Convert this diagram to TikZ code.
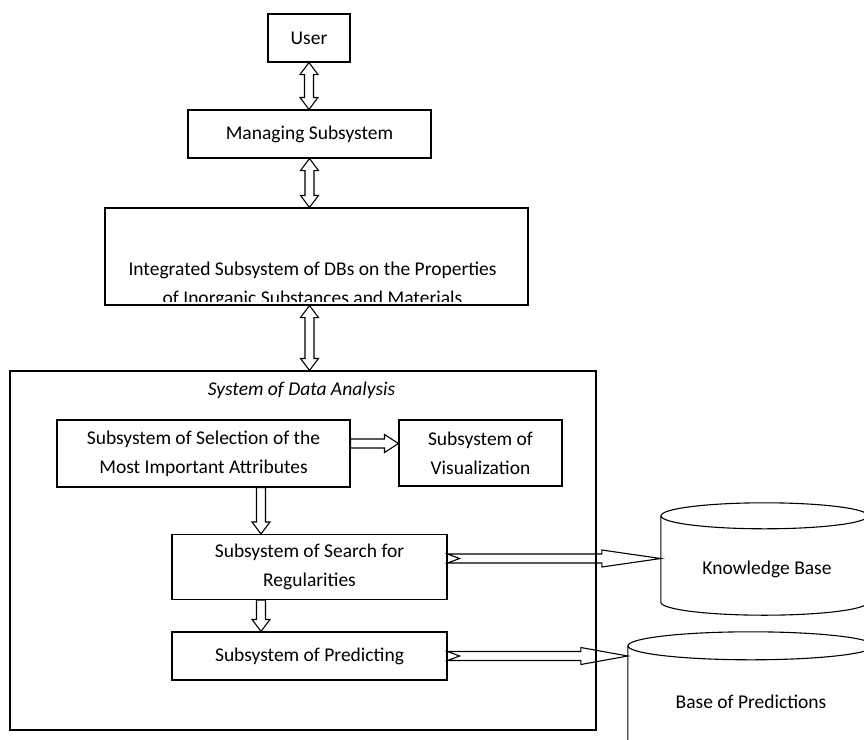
\documentclass[tikz,border=0pt]{standalone}
\usepackage{fontspec}
\setmainfont{Carlito}
\usetikzlibrary{calc}

% hollow block arrows between two points
\newcommand{\vbiarrow}[2]{%
  \draw[barrow] let \p1=(#1), \p2=(#2) in
    (\x1,\y1) -- ({\x1+9pt},{\y1-12pt}) -- ({\x1+4.5pt},{\y1-12pt}) -- ({\x1+4.5pt},{\y2+12pt})
    -- ({\x1+9pt},{\y2+12pt}) -- (\x1,\y2) -- ({\x1-9pt},{\y2+12pt}) -- ({\x1-4.5pt},{\y2+12pt})
    -- ({\x1-4.5pt},{\y1-12pt}) -- ({\x1-9pt},{\y1-12pt}) -- cycle;}
\newcommand{\vonearrow}[2]{%
  \draw[barrow] let \p1=(#1), \p2=(#2) in
    ({\x1-4.5pt},\y1) -- ({\x1+4.5pt},\y1) -- ({\x1+4.5pt},{\y2+12pt}) -- ({\x1+9pt},{\y2+12pt})
    -- (\x1,\y2) -- ({\x1-9pt},{\y2+12pt}) -- ({\x1-4.5pt},{\y2+12pt}) -- cycle;}
\newcommand{\honearrow}[2]{%
  \draw[barrow] let \p1=(#1), \p2=(#2) in
    (\x1,{\y1+4.5pt}) -- ({\x2-14pt},{\y1+4.5pt}) -- ({\x2-14pt},{\y1+9pt}) -- (\x2,\y1)
    -- ({\x2-14pt},{\y1-9pt}) -- ({\x2-14pt},{\y1-4.5pt}) -- (\x1,{\y1-4.5pt}) -- cycle;}
\newcommand{\hnotcharrow}[3]{%
  \draw[barrow] let \p1=(#1), \p2=(#2) in
    (\x1,{\y1+4.5pt}) -- ({\x2-#3pt},{\y1+4.5pt}) -- ({\x2-#3pt},{\y1+8.5pt}) -- (\x2,\y1)
    -- ({\x2-#3pt},{\y1-8.5pt}) -- ({\x2-#3pt},{\y1-4.5pt}) -- (\x1,{\y1-4.5pt})
    -- ({\x1+12pt},\y1) -- cycle;}

\begin{document}
\begin{tikzpicture}[x=1pt,y=1pt]

\tikzset{
  txt/.style    = {font=\fontsize{19.5}{29}\selectfont, align=center, inner sep=0pt},
  box/.style    = {txt, draw, line width=1.1pt},
  line/.style   = {line width=1.1pt},
  barrow/.style = {line width=1.1pt, line join=miter},
}

\clip (0,0) rectangle (864,-739);

\node[box, minimum width=82, minimum height=48] (user) at (309,-38) {User};
\node[box, minimum width=243, minimum height=48] (manage) at (309.5,-134) {Managing Subsystem};
\node[box, minimum width=423, minimum height=97] (integ) at (316.5,-256.5) {};
\begin{scope}
  \clip (integ.north west) rectangle ([yshift=4pt]integ.south east);
  \node[txt] (integtxt) at (312.5,-284.5) {Integrated Subsystem of DBs on the Properties\\of Inorganic Substances and Materials};
\end{scope}

\node[box, minimum width=586, minimum height=359] (sda) at (303,-550.5) {};
\node[txt, font=\fontsize{19.5}{29}\selectfont\itshape] (sdatitle) at (301.5,-390) {System of Data Analysis};
\node[box, minimum width=293, minimum height=67] (sel) at (203.5,-453.5) {Subsystem of Selection of the\\Most Important Attributes};
\node[box, minimum width=163, minimum height=66] (vis) at (480.5,-453) {Subsystem of\\Visualization};
\node[box, minimum width=275, minimum height=65] (search) at (309.5,-567) {Subsystem of Search for\\Regularities};
\node[box, minimum width=275, minimum height=48] (pred) at (309.5,-656) {Subsystem of Predicting};

% data bases
\node[minimum width=207, minimum height=86, inner sep=0pt] (kb) at (764.5,-559) {};
\node[txt] (kbtxt) at (767,-569) {Knowledge Base};
\draw[line] (kb.north west) -- (kb.south west) arc[start angle=180, end angle=360, x radius=103.5pt, y radius=13pt] -- (kb.north east);
\draw[line] (kb.north) ellipse[x radius=103.5pt, y radius=13pt];
\node[txt, minimum width=246, minimum height=112] (bop) at (751,-702) {Base of Predictions};
\draw[line] (bop.north west) -- (bop.south west) arc[start angle=180, end angle=360, x radius=123pt, y radius=14pt] -- (bop.north east);
\draw[line] (bop.north) ellipse[x radius=123pt, y radius=14pt];

\vbiarrow{user.south}{manage.north}
\vbiarrow{manage.south}{integ.north}
\vbiarrow{[xshift=-7pt]integ.south}{sda.north}
\honearrow{[yshift=10pt]sel.east}{vis.west}
\vonearrow{[xshift=57.5pt]sel.south}{search.north}
\vonearrow{[xshift=-48.5pt]search.south}{pred.north}
\hnotcharrow{[yshift=8.5pt]search.east}{kb.west}{59}
\hnotcharrow{pred.east}{bop.west}{47}
\end{tikzpicture}
\end{document}
